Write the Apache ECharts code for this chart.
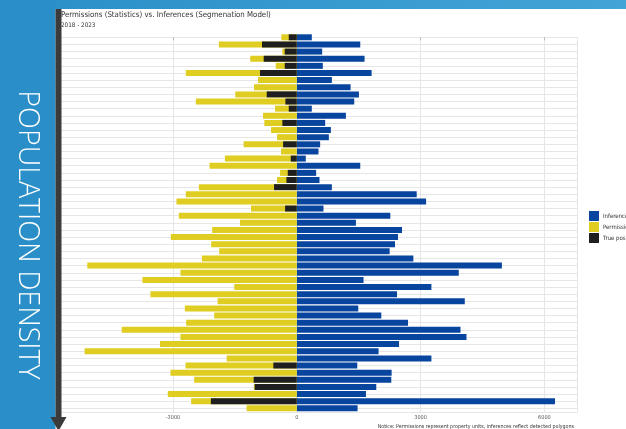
<!DOCTYPE html>
<html>
<head>
<meta charset="utf-8">
<title>Permissions vs. Inferences</title>
<script src="https://cdn.jsdelivr.net/npm/echarts@6.0.0/dist/echarts.min.js"></script>
<style>
    html, body { margin: 0; padding: 0; background: #fff; }
    #myEchart { width: 626px; height: 429px; }
</style>
</head>
<body>
<div id="myEchart"></div>
<script>
// values read top to bottom, one per district row
var inferences = [364, 1538, 615, 1642, 631, 1813, 850, 1303, 1506, 1392, 364, 1190, 688, 826, 777, 566, 526, 218, 1538, 469, 550, 850, 2906, 3133, 647, 2266, 1433, 2550, 2453, 2380, 2250, 2825, 4970, 3925, 1618, 3262, 2429, 4071, 1489, 2048, 2696, 3967, 4112, 2477, 1982, 3262, 1465, 2298, 2290, 1926, 1676, 6257, 1473];
var permissions = [375, 1887, 350, 1127, 510, 2689, 940, 1037, 1491, 2446, 527, 818, 786, 624, 478, 1288, 381, 1742, 2114, 405, 478, 2373, 2689, 2915, 1110, 2859, 1377, 2050, 3053, 2074, 1880, 2300, 5077, 2818, 3741, 1515, 3547, 1919, 2713, 2001, 2681, 4243, 2818, 3313, 5142, 1700, 2696, 3061, 2487, 1040, 3126, 2560, 1215];
var truePositives = [195, 843, 292, 802, 292, 891, 0, 0, 729, 276, 195, 0, 350, 0, 0, 332, 0, 146, 0, 219, 251, 551, 0, 0, 284, 0, 0, 0, 0, 0, 0, 0, 0, 0, 0, 0, 0, 0, 0, 0, 0, 0, 0, 0, 0, 0, 568, 0, 1045, 1020, 0, 2082, 0];
var districts = inferences.map(function (v, i) { return 'District ' + (i + 1); });
var xTicks = { min: -6000, max: 6800, interval: 3000 };

var titleText = 'Permissions (Statistics) vs. Inferences (Segmenation Model)';
var subText = '2018 - 2023';
var noticeText = 'Notice: Permissions represent property units, inferences reflect detected polygons';

var narrow = '"Liberation Sans Narrow", "DejaVu Sans Condensed", Roboto, sans-serif';
var rowH = 7.135;
var plotLeft = 49.2, plotWidth = 528.2;

var chart = echarts.init(document.getElementById('myEchart'));
chart.setOption({
    animation: false,
    title: {
        text: titleText,
        subtext: subText,
        left: 61,
        top: 11,
        padding: 0,
        itemGap: 3,
        textStyle: { fontSize: 7.8, fontWeight: 'normal', color: '#333', fontFamily: narrow },
        subtextStyle: { fontSize: 6.3, color: '#333', fontFamily: narrow }
    },
    legend: {
        data: ['Inferences', 'Permissions', 'True positives'],
        orient: 'vertical',
        left: 589,
        top: 211,
        padding: 0,
        itemWidth: 10,
        itemHeight: 10,
        itemGap: 1,
        icon: 'rect',
        textStyle: { fontSize: 6, color: '#333', fontFamily: narrow, padding: [0, 0, 0, -1] }
    },
    // grid 0 holds the bars, grid 1 draws the lines through the bar centres
    grid: [
        { left: plotLeft, top: 37.3 - rowH / 2, width: plotWidth, height: rowH * inferences.length },
        { left: plotLeft, top: 37.3, width: plotWidth, height: rowH * (inferences.length - 0.5) }
    ],
    xAxis: [
        {
            gridIndex: 0, type: 'value',
            min: xTicks.min, max: xTicks.max, interval: xTicks.interval,
            axisLine: { show: false }, axisTick: { show: false },
            axisLabel: { show: false }, splitLine: { show: false }
        },
        {
            gridIndex: 1, type: 'value',
            min: xTicks.min, max: xTicks.max, interval: xTicks.interval,
            axisLine: { show: false },
            axisTick: { show: true, length: 3, lineStyle: { color: '#bbb' } },
            axisLabel: {
                fontSize: 5.5, color: '#555', margin: 3, fontFamily: narrow,
                showMinLabel: false, showMaxLabel: false,
                formatter: function (v) { return String(v); }
            },
            splitLine: { lineStyle: { color: '#e6e6e6' } }
        }
    ],
    yAxis: [
        {
            gridIndex: 0, type: 'category', inverse: true,
            data: districts,
            axisLine: { show: false }, axisTick: { show: false },
            axisLabel: { show: false }, splitLine: { show: false }
        },
        {
            gridIndex: 1, type: 'value', inverse: true,
            min: 0, max: inferences.length - 0.5, interval: 1,
            axisLine: { show: false }, axisTick: { show: false },
            axisLabel: { show: false },
            splitLine: { lineStyle: { color: '#e6e6e6' } }
        }
    ],
    series: [
        {
            name: 'Inferences', type: 'bar', barWidth: 6, barGap: '-100%',
            itemStyle: { color: '#08459e' },
            data: inferences
        },
        {
            name: 'Permissions', type: 'bar', barWidth: 6, barGap: '-100%',
            itemStyle: { color: '#e0cd21' },
            data: permissions.map(function (v) { return -v; })
        },
        {
            name: 'True positives', type: 'bar', barWidth: 6, barGap: '-100%',
            itemStyle: { color: '#1f1f1f' },
            data: truePositives.map(function (v) { return -v; })
        }
    ],
    graphic: [
        {
            type: 'rect', z: 100,
            shape: { x: 0, y: 0, width: 626, height: 9 },
            style: {
                fill: new echarts.graphic.LinearGradient(0, 0, 1, 0, [
                    { offset: 0, color: '#2a8fc8' },
                    { offset: 1, color: '#43a4d6' }
                ])
            }
        },
        {
            type: 'rect', z: 100,
            shape: { x: 0, y: 0, width: 55.5, height: 429 },
            style: { fill: '#2a8fc8' }
        },
        {
            type: 'rect', z: 101,
            shape: { x: 55.5, y: 9, width: 6, height: 409 },
            style: { fill: '#3b3b3b' }
        },
        {
            type: 'polygon', z: 101,
            shape: { points: [[50.5, 417], [66.5, 417], [58.5, 431]] },
            style: { fill: '#3b3b3b' }
        },
        {
            type: 'text', z: 102,
            x: 27, y: 235,
            rotation: -Math.PI / 2,
            style: {
                text: 'POPULATION DENSITY',
                fontSize: 28.6,
                fontWeight: 300,
                fontFamily: '"Open Sans", Lato, sans-serif',
                fill: '#fff',
                textAlign: 'center',
                textVerticalAlign: 'middle'
            }
        },
        {
            type: 'text', z: 102,
            x: 574, y: 426.7,
            style: {
                text: noticeText,
                fontSize: 5.3,
                fontFamily: narrow,
                fill: '#333',
                textAlign: 'right',
                textVerticalAlign: 'middle'
            }
        }
    ]
});
</script>
</body>
</html>
